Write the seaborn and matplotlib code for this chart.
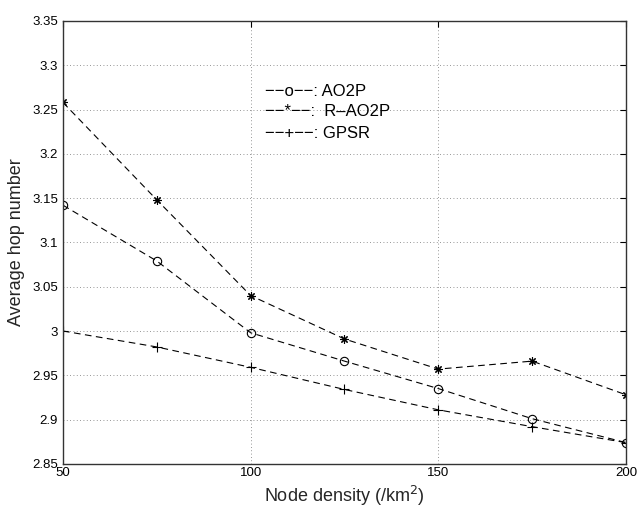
import pandas as pd
import matplotlib
matplotlib.use('Agg')
import matplotlib.pyplot as plt
import seaborn as sns

# Values
density = [50, 75, 100, 125, 150, 175, 200]
ao2p = [3.142, 3.079, 2.998, 2.966, 2.935, 2.901, 2.874]
r_ao2p = [3.258, 3.148, 3.040, 2.991, 2.957, 2.966, 2.928]
gpsr = [3.000, 2.982, 2.959, 2.934, 2.911, 2.892, 2.874]

legend_text = ['\u2212\u2212o\u2212\u2212: AO2P',
               '\u2212\u2212*\u2212\u2212:  R\u2013AO2P',
               '\u2212\u2212+\u2212\u2212: GPSR']

sns.set_style('white')
plt.rcParams['font.family'] = ['Liberation Sans', 'DejaVu Sans']

fig = plt.figure(figsize=(6.39, 5.12), dpi=100)
ax = fig.add_axes([0.0986, 0.094, 0.881, 0.865])

# asterisk marker like matlab's '*'
series = [(ao2p, 'o', 6, 'none'), (r_ao2p, (8, 2, 0), 6, 'k'), (gpsr, '+', 7, 'k')]
for vals, mk, ms, mfc in series:
    df = pd.DataFrame({'Density': density, 'Hops': vals})
    sns.lineplot(data=df, x='Density', y='Hops', ax=ax, color='k', lw=0.8,
                 linestyle=(0, (6, 4)), marker=mk, markersize=ms,
                 markerfacecolor=mfc, markeredgecolor='k', markeredgewidth=0.8)

ax.set_xlim(50, 200)
ax.set_ylim(2.85, 3.35)
ax.set_xticks([50, 100, 150, 200])
ax.set_yticks([2.85, 2.9, 2.95, 3, 3.05, 3.1, 3.15, 3.2, 3.25, 3.3, 3.35])
ax.set_yticklabels(['2.85', '2.9', '2.95', '3', '3.05', '3.1', '3.15', '3.2', '3.25', '3.3', '3.35'])
ax.grid(True, color='k', linestyle=(0, (1, 3)), linewidth=0.6, alpha=0.55)
ax.tick_params(direction='in', length=4, labelsize=9.5, colors='k', width=0.8,
               top=True, right=True)
ax.tick_params(axis='x', pad=2)
for s in ax.spines.values():
    s.set_color('#333333')
    s.set_linewidth(1.0)

ax.set_xlabel('Node density (/km$^2$)', fontsize=13, labelpad=4)
ax.set_ylabel('Average hop number', fontsize=13, labelpad=5)

ys = [0.840, 0.795, 0.747]
for t, y in zip(legend_text, ys):
    ax.text(0.359, y, t, transform=ax.transAxes, fontsize=12,
            va='center', ha='left', color='k')

fig.savefig('out.png', dpi=100)
